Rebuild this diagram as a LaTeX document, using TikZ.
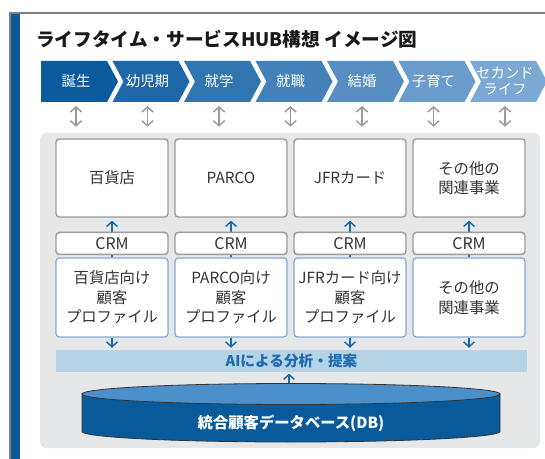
\documentclass[tikz,border=0pt]{standalone}
\usepackage{fontspec}
\setmainfont{Noto Sans CJK JP}
\usepackage{xcolor}
\usetikzlibrary{positioning,arrows.meta,calc}
\definecolor{dkblue}{HTML}{0B5A9E}
\definecolor{ltblue}{HTML}{7CA8D4}
\definecolor{panelgray}{HTML}{E6E7E9}
\definecolor{boxgray}{HTML}{9B9B9B}
\definecolor{profblue}{HTML}{80A8D5}
\definecolor{arrblue}{HTML}{1B69AC}
\definecolor{aiblue}{HTML}{B4D3E6}
\definecolor{aitext}{HTML}{1E6BAD}
\definecolor{dbtop}{HTML}{4B8FCB}
\definecolor{dbbody}{HTML}{095A9B}
\definecolor{txtgray}{HTML}{333333}

\begin{document}
\begin{tikzpicture}[x=0.75pt,y=-0.75pt,
  panel/.style={fill=panelgray,rounded corners=5pt,minimum width=375pt,minimum height=236.25pt,inner sep=0pt},
  stagetext/.style={text=white,align=center,inner sep=0pt,font=\fontsize{10.8}{12}\selectfont},
  dblarrow/.style={{Straight Barb[length=3.8pt,width=8.5pt]}-{Straight Barb[length=3.8pt,width=8.5pt]},draw=boxgray,line width=1.1pt},
  shopbox/.style={draw=boxgray,line width=1.1pt,fill=white,rounded corners=2.5pt,minimum width=84pt,minimum height=58.5pt,inner sep=0pt,align=center,text=txtgray,font=\fontsize{11.5}{14.6}\selectfont},
  crmbox/.style={shopbox,minimum height=16.5pt,font=\fontsize{12}{14}\selectfont},
  profbox/.style={shopbox,draw=profblue,line width=0.9pt,minimum height=59.25pt},
  bluearrow/.style={-{Straight Barb[length=3.6pt,width=8pt]},draw=arrblue,line width=1.1pt}]
\useasboundingbox (0,0) rectangle (545,459);

% frame and title
\draw[gray,line width=0.8pt] (10,459) -- (10,13) -- (545,13);
\fill[dkblue] (10.6,13.6) rectangle (20,459);
\node[anchor=west,inner sep=0pt,font=\bfseries\fontsize{14}{16}\selectfont,text=black!90] (title) at (36,39) {ライフタイム・サービスHUB構想 イメージ図};

\node[panel] (panel) at (290,290.5) {};

% life stages
\foreach \lbl [count=\k from 0] in {誕生,幼児期,就学,就職,結婚,子育て,{セカンド\\ライフ}} {
  \pgfmathsetmacro\xa{41+71.5*\k}
  \pgfmathsetmacro\xn{\xa+11*(\k>0)}
  \pgfmathtruncatemacro\mix{100-100*\k/6}
  \fill[dkblue!\mix!ltblue] (\xa,61) -- (\xa+66,61) -- (\xa+77,81.5) -- (\xa+66,102) -- (\xa,102) -- (\xn,81.5) -- cycle;
  \node[stagetext] (st\k) at (\xa+35,81.5) {\lbl};
  \draw[dblarrow,shorten >=4.5pt] ($(st\k)+(0,24.5)$) -- (st\k |- panel.north);
}

% business units
\foreach \shop [count=\i] in {百貨店,PARCO,JFRカード,{その他の\\関連事業}} {
  \node[shopbox] (shop\i) at (112+119*\i-119,178) {\shop};
}
\foreach \prof [count=\i] in {{百貨店向け\\顧客\\プロファイル},{PARCO向け\\顧客\\プロファイル},{JFRカード向け\\顧客\\プロファイル},{その他の\\関連事業}} {
  \node[profbox] (prof\i) at (112+119*\i-119,297.5) {\prof};
  \draw[bluearrow,shorten >=2.2pt] (prof\i.north) -- (shop\i.south);
  \node[crmbox,below=10.5pt of shop\i] (crm\i) {CRM};
}

% analysis and database
\node[fill=aiblue,minimum width=353.25pt,minimum height=16.5pt,inner sep=0pt,text=aitext,font=\bfseries\fontsize{11}{13}\selectfont] (ai) at (291.5,361) {AIによる分析・提案};
\foreach \i in {1,...,4}
  \draw[bluearrow,shorten >=1.5pt] (prof\i.south) -- (prof\i.south |- ai.north);

\filldraw[fill=dbbody,draw=black!80,line width=0.6pt] (82,394) -- (82,431.5) arc[start angle=180,end angle=0,x radius=209,y radius=10.5] -- (500,394) -- cycle;
\filldraw[fill=dbtop,draw=black!80,line width=0.6pt] (291,394) ellipse[x radius=209,y radius=10.5];
\coordinate (dbtopc) at (289,383);
\node[text=white,inner sep=0pt,font=\bfseries\fontsize{11.5}{13}\selectfont] (db) at (291,423) {統合顧客データベース(DB)};
\draw[bluearrow,shorten >=1pt] (dbtopc) -- (dbtopc |- ai.south);
\end{tikzpicture}
\end{document}
